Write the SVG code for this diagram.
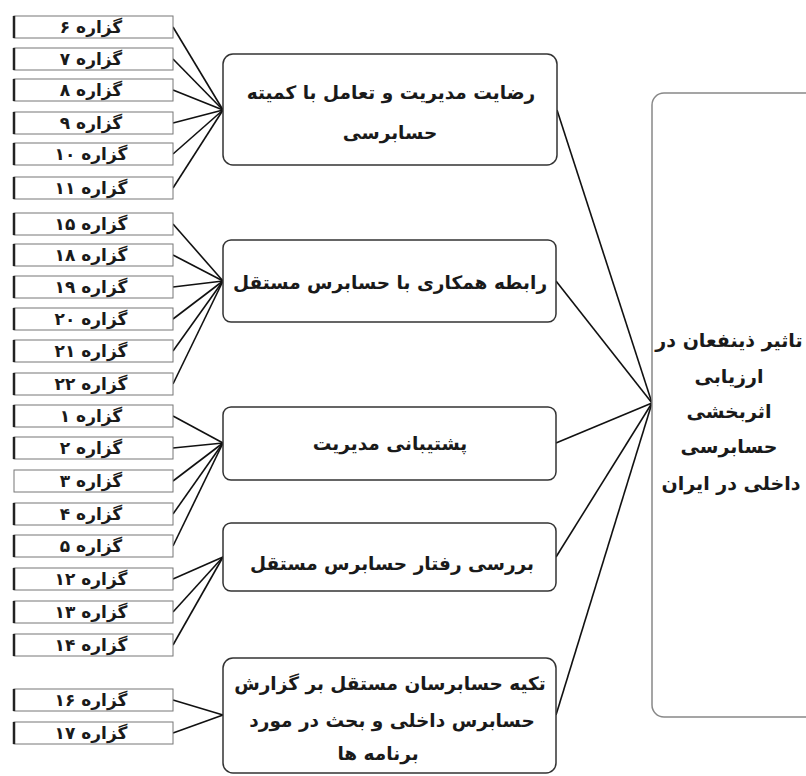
<svg xmlns="http://www.w3.org/2000/svg" width="806" height="776" viewBox="0 0 806 776">
<style>
  .item rect { fill: #fff; stroke: #777; stroke-width: 1; }
  .item line { stroke: #222; stroke-width: 2.5; }
  .item text { font-family: 'DejaVu Sans', 'Noto Sans', sans-serif; font-weight: bold; font-size: 17px; fill: #1a1a1a; text-anchor: middle; direction: rtl; }
  .mid rect { fill: #fff; stroke: #333; stroke-width: 1.5; }
  .mid text { font-family: 'DejaVu Sans', 'Noto Sans', sans-serif; font-weight: bold; font-size: 18.5px; fill: #1a1a1a; text-anchor: middle; direction: rtl; }
  .goal rect { fill: #fff; stroke: #888; stroke-width: 1.5; }
  .goal text { font-family: 'DejaVu Sans', 'Noto Sans', sans-serif; font-weight: bold; font-size: 19px; fill: #1a1a1a; text-anchor: middle; direction: rtl; }
  #connectors line { stroke: #111; stroke-width: 1.6; }
</style>
<rect width="806" height="776" fill="#fff"/>

<g id="connectors">
  <line x1="173" y1="27" x2="223" y2="110"/>
  <line x1="173" y1="59" x2="223" y2="110"/>
  <line x1="173" y1="90" x2="223" y2="110"/>
  <line x1="173" y1="123" x2="223" y2="110"/>
  <line x1="173" y1="154" x2="223" y2="110"/>
  <line x1="173" y1="188" x2="223" y2="110"/>
  <line x1="173" y1="224" x2="223" y2="281"/>
  <line x1="173" y1="255" x2="223" y2="281"/>
  <line x1="173" y1="287" x2="223" y2="281"/>
  <line x1="173" y1="319" x2="223" y2="281"/>
  <line x1="173" y1="351" x2="223" y2="281"/>
  <line x1="173" y1="384" x2="223" y2="281"/>
  <line x1="173" y1="416" x2="223" y2="443"/>
  <line x1="173" y1="448" x2="223" y2="443"/>
  <line x1="173" y1="481" x2="223" y2="443"/>
  <line x1="173" y1="514" x2="223" y2="443"/>
  <line x1="173" y1="546" x2="223" y2="443"/>
  <line x1="173" y1="579" x2="223" y2="557"/>
  <line x1="173" y1="612" x2="223" y2="557"/>
  <line x1="173" y1="645" x2="223" y2="557"/>
  <line x1="173" y1="700" x2="223" y2="715"/>
  <line x1="173" y1="733" x2="223" y2="715"/>
  <line x1="557" y1="110" x2="652" y2="403"/>
  <line x1="556" y1="281" x2="652" y2="403"/>
  <line x1="556" y1="443" x2="652" y2="403"/>
  <line x1="556" y1="557" x2="652" y2="403"/>
  <line x1="556" y1="715" x2="652" y2="403"/>
</g>

<g id="item6" class="item"><rect x="14" y="16" width="159" height="22"/><line x1="14" y1="16" x2="14" y2="38"/><text x="91" y="33">گزاره ۶</text></g>
<g id="item7" class="item"><rect x="14" y="48" width="159" height="22"/><line x1="14" y1="48" x2="14" y2="70"/><text x="91" y="65">گزاره ۷</text></g>
<g id="item8" class="item"><rect x="14" y="79" width="159" height="22"/><line x1="14" y1="79" x2="14" y2="101"/><text x="91" y="96">گزاره ۸</text></g>
<g id="item9" class="item"><rect x="14" y="112" width="159" height="22"/><line x1="14" y1="112" x2="14" y2="134"/><text x="91" y="129">گزاره ۹</text></g>
<g id="item10" class="item"><rect x="14" y="143" width="159" height="22"/><line x1="14" y1="143" x2="14" y2="165"/><text x="91" y="160">گزاره ۱۰</text></g>
<g id="item11" class="item"><rect x="14" y="177" width="159" height="22"/><line x1="14" y1="177" x2="14" y2="199"/><text x="91" y="194">گزاره ۱۱</text></g>

<g id="item15" class="item"><rect x="14" y="213" width="159" height="22"/><line x1="14" y1="213" x2="14" y2="235"/><text x="91" y="230">گزاره ۱۵</text></g>
<g id="item18" class="item"><rect x="14" y="244" width="159" height="22"/><line x1="14" y1="244" x2="14" y2="266"/><text x="91" y="261">گزاره ۱۸</text></g>
<g id="item19" class="item"><rect x="14" y="276" width="159" height="22"/><line x1="14" y1="276" x2="14" y2="298"/><text x="91" y="293">گزاره ۱۹</text></g>
<g id="item20" class="item"><rect x="14" y="308" width="159" height="22"/><line x1="14" y1="308" x2="14" y2="330"/><text x="91" y="325">گزاره ۲۰</text></g>
<g id="item21" class="item"><rect x="14" y="340" width="159" height="22"/><line x1="14" y1="340" x2="14" y2="362"/><text x="91" y="357">گزاره ۲۱</text></g>
<g id="item22" class="item"><rect x="14" y="373" width="159" height="22"/><line x1="14" y1="373" x2="14" y2="395"/><text x="91" y="390">گزاره ۲۲</text></g>

<g id="item1" class="item"><rect x="14" y="405" width="159" height="22"/><line x1="14" y1="405" x2="14" y2="427"/><text x="91" y="422">گزاره ۱</text></g>
<g id="item2" class="item"><rect x="14" y="437" width="159" height="22"/><line x1="14" y1="437" x2="14" y2="459"/><text x="91" y="454">گزاره ۲</text></g>
<g id="item3" class="item"><rect x="14" y="470" width="159" height="22"/><text x="91" y="487">گزاره ۳</text></g>
<g id="item4" class="item"><rect x="14" y="503" width="159" height="22"/><line x1="14" y1="503" x2="14" y2="525"/><text x="91" y="520">گزاره ۴</text></g>
<g id="item5" class="item"><rect x="14" y="535" width="159" height="22"/><line x1="14" y1="535" x2="14" y2="557"/><text x="91" y="552">گزاره ۵</text></g>

<g id="item12" class="item"><rect x="14" y="568" width="159" height="22"/><line x1="14" y1="568" x2="14" y2="590"/><text x="91" y="585">گزاره ۱۲</text></g>
<g id="item13" class="item"><rect x="14" y="601" width="159" height="22"/><line x1="14" y1="601" x2="14" y2="623"/><text x="91" y="618">گزاره ۱۳</text></g>
<g id="item14" class="item"><rect x="14" y="634" width="159" height="22"/><line x1="14" y1="634" x2="14" y2="656"/><text x="91" y="651">گزاره ۱۴</text></g>

<g id="item16" class="item"><rect x="14" y="689" width="159" height="22"/><line x1="14" y1="689" x2="14" y2="711"/><text x="91" y="706">گزاره ۱۶</text></g>
<g id="item17" class="item"><rect x="14" y="722" width="159" height="22"/><line x1="14" y1="722" x2="14" y2="744"/><text x="91" y="739">گزاره ۱۷</text></g>

<g id="factorA" class="mid"><rect x="223" y="54" width="334" height="111" rx="10"/><text x="391" y="99">رضایت مدیریت و تعامل با کمیته</text><text x="390" y="139">حسابرسی</text></g>
<g id="factorB" class="mid"><rect x="223" y="240" width="333" height="82" rx="8"/><text x="390" y="289">رابطه همکاری با حسابرس مستقل</text></g>
<g id="factorC" class="mid"><rect x="223" y="407" width="333" height="73" rx="8"/><text x="390" y="450">پشتیبانی مدیریت</text></g>
<g id="factorD" class="mid"><rect x="223" y="523" width="333" height="68" rx="8"/><text x="392" y="570">بررسی رفتار حسابرس مستقل</text></g>
<g id="factorE" class="mid"><rect x="223" y="658" width="333" height="115" rx="10"/><text x="390" y="690">تکیه حسابرسان مستقل بر گزارش</text><text x="392" y="727">حسابرس داخلی و بحث در مورد</text><text x="378" y="760">برنامه ها</text></g>

<g id="goal" class="goal"><rect x="652" y="93" width="170" height="624" rx="12"/>
  <text x="729" y="347">تاثیر ذینفعان در</text>
  <text x="729" y="383">ارزیابی</text>
  <text x="729" y="418">اثربخشی</text>
  <text x="729" y="453">حسابرسی</text>
  <text x="731" y="490">داخلی در ایران</text>
</g>
</svg>
